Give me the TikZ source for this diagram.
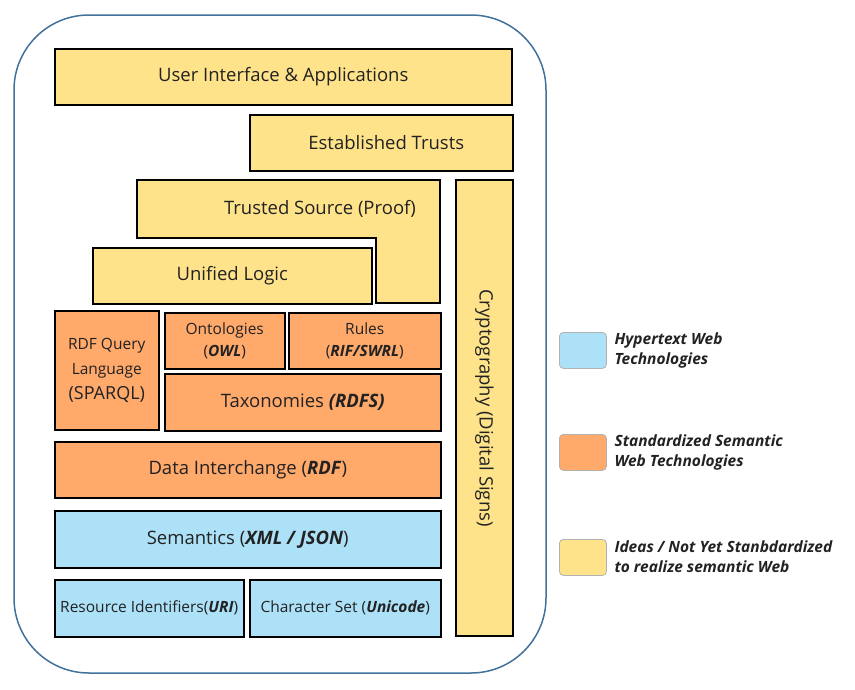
\documentclass[tikz,border=0pt]{standalone}
\usepackage{fontspec}
\setmainfont{Open Sans}
\usepackage{tikz}
\usetikzlibrary{positioning}
\definecolor{ideaYellow}{RGB}{255,227,138}
\definecolor{semOrange}{RGB}{255,169,107}
\definecolor{hyperBlue}{RGB}{173,225,248}
\definecolor{frameBlue}{RGB}{65,113,156}
\definecolor{inkGray}{RGB}{34,34,34}
\newcommand{\bi}[1]{\textbf{\textit{#1}}}

\begin{document}
\begin{tikzpicture}[
  x=1pt,y=-1pt,
  font=\fontsize{18.5}{22}\selectfont,
  text=inkGray,
  layer/.style={draw=black,line width=1.5pt,anchor=north west,inner sep=2pt,align=center},
  hyper/.style={layer,fill=hyperBlue},
  stdsem/.style={layer,fill=semOrange},
  idea/.style={layer,fill=ideaYellow},
  small/.style={font=\fontsize{15.5}{22}\selectfont},
  key/.style={draw=gray!60,line width=0.8pt,rounded corners=4pt,minimum width=47pt,minimum height=36pt,anchor=north west},
  keytext/.style={anchor=west,align=left,font=\fontsize{15.5}{20}\selectfont\bfseries\itshape}
]
\useasboundingbox (0,0) rectangle (855,689);

% outer frame
\draw[frameBlue,line width=1.5pt,rounded corners=75pt] (14,15) rectangle (546,673);

% top layers
\node[idea,minimum width=457pt,minimum height=56pt] (ui) at (54,48) {\raisebox{-2pt}{User Interface \& Applications}};
\node[idea,minimum width=263pt,minimum height=56pt] (trust) at (249,114) {\hspace*{10pt}Established Trusts};
\filldraw[fill=ideaYellow,draw=black,line width=1.5pt]
  (137,180) -- (440,180) -- (440,303) -- (376,303) -- (376,238) -- (137,238) -- cycle;
\node (proof) at (320,209) {Trusted Source (Proof)};
\node[idea,minimum width=279pt,minimum height=56pt] (logic) at (92,247) {\raisebox{-5pt}{Unified Logic}};
\node[idea,anchor=center,rotate=-90,minimum width=456pt,minimum height=57pt] (crypto) at (484.5,408) {Cryptography (Digital Signs)};

% semantic web layers
\node[stdsem,font=\fontsize{15.5}{25}\selectfont,minimum width=104pt,minimum height=119pt] (sparql) at (54,310) {RDF Query\\Language\\{\fontsize{18}{25}\selectfont(SPARQL)}};
\node[stdsem,small,minimum width=120pt,minimum height=56pt] (owl) at (164,312) {Ontologies\\(\bi{OWL})};
\node[stdsem,small,minimum width=152pt,minimum height=56pt] (rules) at (288,312) {Rules\\(\bi{RIF/SWRL})};
\node[stdsem,minimum width=276pt,minimum height=57pt] (rdfs) at (164,373) {\raisebox{-2pt}{Taxonomies \bi{(RDFS)}}};
\node[stdsem,minimum width=386pt,minimum height=56pt] (rdf) at (54,441) {\raisebox{-1pt}{Data Interchange (\bi{RDF})}};

% hypertext layers
\node[hyper,minimum width=386pt,minimum height=57pt] (xml) at (54,510) {\raisebox{-1pt}{Semantics (\bi{XML / JSON})}};
\node[hyper,small,minimum width=189pt,minimum height=57pt] (uri) at (54,579) {\raisebox{-2pt}{Resource Identifiers(\bi{URI})}};
\node[hyper,small,minimum width=191pt,minimum height=57pt] (unicode) at (249,579) {Character Set (\bi{Unicode})};

% legend
\node[key,fill=hyperBlue] (k1) at (559,332) {};
\node[keytext] (t1) at (611,350) {Hypertext Web\\Technologies};
\node[key,fill=semOrange] (k2) at (559,434) {};
\node[keytext] (t2) at (611,452) {Standardized Semantic\\Web Technologies};
\node[key,fill=ideaYellow] (k3) at (559,539) {};
\node[keytext] (t3) at (611,557) {Ideas / Not Yet Stanbdardized\\to realize semantic Web};
\end{tikzpicture}
\end{document}
